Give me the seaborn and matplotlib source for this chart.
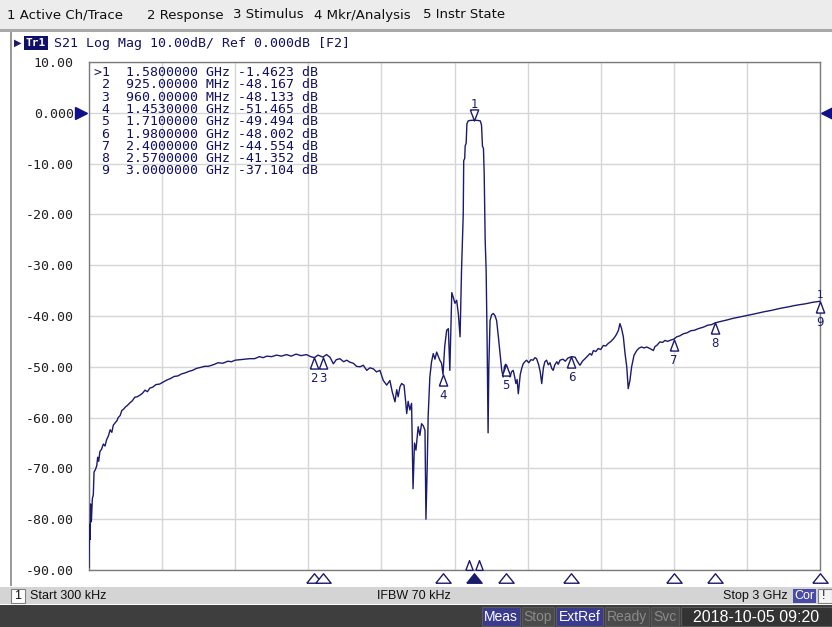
import matplotlib
matplotlib.use("Agg")
import matplotlib.pyplot as plt
import matplotlib.transforms as mtransforms
from matplotlib.patches import Rectangle
import seaborn as sns
import pandas as pd

# Setup style
sns.set_theme(style="white")
plt.rcParams['font.family'] = 'sans-serif'

# S21 trace (GHz, dB)
freq_ghz = [
    0.0003, 0.0012, 0.003, 0.005, 0.007, 0.010, 0.014, 0.018, 0.021, 0.026,
    0.032, 0.036, 0.040, 0.045, 0.052, 0.059, 0.066, 0.073, 0.080, 0.087,
    0.094, 0.100, 0.108, 0.115, 0.120, 0.128, 0.135, 0.141, 0.150, 0.158,
    0.168, 0.178, 0.188, 0.198, 0.209, 0.220, 0.230, 0.240, 0.250, 0.262,
    0.275, 0.290, 0.305, 0.320, 0.335, 0.350, 0.365, 0.380, 0.395, 0.410,
    0.425, 0.442, 0.460, 0.475, 0.490, 0.510, 0.530, 0.550, 0.570, 0.585,
    0.600, 0.620, 0.640, 0.660, 0.680, 0.700, 0.715, 0.730, 0.750, 0.770,
    0.790, 0.811, 0.830, 0.850, 0.870, 0.893, 0.910, 0.925, 0.940, 0.960,
    0.975, 0.989, 1.003, 1.015, 1.030, 1.045, 1.058, 1.071, 1.085, 1.098,
    1.112, 1.126, 1.140, 1.153, 1.167, 1.180, 1.194, 1.208, 1.222, 1.235,
    1.245, 1.256, 1.263, 1.269, 1.276, 1.283, 1.293, 1.300, 1.304, 1.310,
    1.317, 1.324, 1.330, 1.336, 1.342, 1.351, 1.358, 1.365, 1.372, 1.379,
    1.383, 1.388, 1.392, 1.399, 1.406, 1.413, 1.420, 1.427, 1.434, 1.440,
    1.447, 1.453, 1.460, 1.468, 1.475, 1.481, 1.489, 1.495, 1.502, 1.509,
    1.516, 1.523, 1.529, 1.536, 1.538, 1.542, 1.544, 1.548, 1.551, 1.556,
    1.565, 1.580, 1.595, 1.606, 1.611, 1.615, 1.619, 1.622, 1.626, 1.630,
    1.634, 1.638, 1.641, 1.646, 1.652, 1.659, 1.666, 1.673, 1.680, 1.687,
    1.694, 1.700, 1.705, 1.710, 1.714, 1.721, 1.728, 1.734, 1.741, 1.747,
    1.752, 1.757, 1.762, 1.770, 1.776, 1.782, 1.789, 1.796, 1.805, 1.814,
    1.823, 1.830, 1.837, 1.845, 1.852, 1.858, 1.865, 1.871, 1.878, 1.885,
    1.892, 1.899, 1.905, 1.912, 1.920, 1.926, 1.933, 1.945, 1.955, 1.965,
    1.980, 1.995, 2.005, 2.015, 2.025, 2.036, 2.046, 2.056, 2.063, 2.070,
    2.080, 2.090, 2.100, 2.111, 2.121, 2.131, 2.142, 2.152, 2.160, 2.166,
    2.173, 2.179, 2.186, 2.193, 2.200, 2.207, 2.213, 2.220, 2.227, 2.237,
    2.248, 2.258, 2.268, 2.278, 2.289, 2.302, 2.316, 2.323, 2.330, 2.343,
    2.354, 2.364, 2.375, 2.384, 2.400, 2.412, 2.425, 2.439, 2.455, 2.470,
    2.485, 2.500, 2.521, 2.540, 2.555, 2.570, 2.590, 2.617, 2.640, 2.670,
    2.699, 2.730, 2.767, 2.800, 2.836, 2.870, 2.900, 2.940, 2.970, 3.000,
]
s21_db = [
    -89.5, -86.0, -81.0, -84.0, -77.0, -80.5, -76.0, -75.2, -70.7, -70.3,
    -69.5, -67.8, -68.6, -66.7, -66.2, -65.2, -65.6, -64.3, -63.6, -62.4,
    -62.9, -61.5, -61.0, -60.6, -60.0, -59.6, -58.6, -58.4, -57.9, -57.6,
    -57.1, -56.7, -56.0, -55.9, -55.6, -55.2, -54.6, -54.9, -54.2, -54.0,
    -53.5, -53.4, -53.0, -52.6, -52.3, -51.9, -51.8, -51.4, -51.2, -50.9,
    -50.7, -50.3, -50.1, -49.9, -49.9, -49.6, -49.2, -49.3, -48.9, -49.0,
    -48.7, -48.6, -48.5, -48.4, -48.4, -48.0, -48.2, -47.9, -48.0, -47.7,
    -47.9, -47.6, -47.9, -47.5, -47.8, -47.6, -48.0, -48.2, -47.7, -48.1,
    -47.6, -48.1, -49.4, -48.6, -48.4, -49.0, -48.7, -49.1, -49.3, -49.9,
    -50.0, -49.7, -50.7, -50.2, -50.4, -51.0, -50.7, -52.7, -53.6, -52.7,
    -55.0, -56.9, -54.5, -55.9, -54.0, -53.3, -53.6, -57.0, -59.2, -56.8,
    -58.5, -57.2, -74.0, -65.0, -66.4, -61.8, -63.5, -61.2, -61.6, -62.5,
    -80.0, -70.0, -59.8, -52.0, -49.0, -47.4, -48.5, -47.1, -48.0, -48.7,
    -49.3, -51.5, -46.0, -42.8, -42.5, -50.7, -35.4, -36.3, -37.5, -36.9,
    -39.6, -44.1, -31.0, -20.0, -9.4, -9.0, -6.5, -6.0, -2.2, -1.6,
    -1.5, -1.46, -1.5, -1.6, -2.4, -6.6, -7.0, -12.0, -25.0, -31.0,
    -45.0, -63.0, -50.0, -40.9, -39.8, -39.5, -39.9, -40.9, -44.0, -47.4,
    -50.7, -52.0, -50.0, -49.5, -50.0, -51.2, -52.0, -51.0, -50.7, -52.0,
    -53.3, -52.5, -55.3, -51.5, -50.3, -49.4, -49.0, -48.7, -49.2, -48.6,
    -48.7, -48.2, -48.4, -49.5, -51.0, -53.3, -50.2, -49.0, -48.7, -49.6,
    -49.2, -50.3, -50.7, -49.6, -49.0, -49.5, -48.7, -48.5, -48.9, -48.3,
    -48.0, -48.1, -49.0, -49.7, -48.9, -48.4, -47.9, -47.4, -47.7, -46.8,
    -47.0, -46.4, -46.6, -45.8, -45.9, -45.4, -45.0, -44.5, -44.0, -43.5,
    -42.8, -41.5, -42.5, -44.1, -47.4, -50.0, -54.3, -52.7, -50.0, -47.7,
    -46.8, -46.3, -46.1, -46.3, -46.1, -46.4, -46.8, -46.0, -45.8, -45.1,
    -45.2, -44.8, -45.0, -44.8, -44.55, -44.1, -43.9, -43.5, -43.3, -42.9,
    -42.8, -42.5, -42.2, -41.8, -41.7, -41.35, -41.1, -40.8, -40.5, -40.2,
    -39.9, -39.6, -39.2, -38.9, -38.5, -38.2, -37.9, -37.6, -37.3, -37.1,
]

# Marker table
marker_ids = [1, 2, 3, 4, 5, 6, 7, 8, 9]
marker_freq = [1.58, 0.925, 0.96, 1.453, 1.71, 1.98, 2.4, 2.57, 3.0]
marker_db = [-1.4623, -48.167, -48.133, -51.465, -49.494, -48.002, -44.554, -41.352, -37.104]
active_marker = 1
bw_marker_freq = [1.559, 1.600]

y_ticks = [10, 0, -10, -20, -30, -40, -50, -60, -70, -80, -90]
menu_items = ["1 Active Ch/Trace", "2 Response", "3 Stimulus", "4 Mkr/Analysis", "5 Instr State"]
menu_x = [7, 147, 233, 314, 423]

W, H = 832, 627
NAVY = '#1b1b6e'
MONO = 'DejaVu Sans Mono'


def fx(x):
    return x / W


def fy(y):
    return 1 - y / H


def box(fig, x0, y0, x1, y1, fc, ec='none', lw=0.8):
    fig.patches.append(Rectangle((fx(x0), fy(y1)), (x1 - x0) / W, (y1 - y0) / H,
                                 transform=fig.transFigure, facecolor=fc,
                                 edgecolor=ec, linewidth=lw, zorder=0))


fig = plt.figure(figsize=(W / 100, H / 100), dpi=100)
fig.patch.set_facecolor('white')

# window chrome: menu bar
box(fig, 0, 0, W, 29, '#ececec')
box(fig, 0, 29, W, 32, '#a8a8a8')
for label, x in zip(menu_items, menu_x):
    fig.text(fx(x), fy(15), label, fontsize=9.5, family='DejaVu Sans', color='#101010', va='center')

# trace title line
fig.text(fx(14), fy(43), '\u25B6', fontsize=7, color=NAVY, va='center', family='DejaVu Sans')
box(fig, 24, 36, 48, 50, '#10106a')
fig.text(fx(36), fy(43), 'Tr1', fontsize=8, color='white', va='center', ha='center', family=MONO, weight='bold')
fig.text(fx(54), fy(43), 'S21 Log Mag 10.00dB/ Ref 0.000dB [F2]', fontsize=9.5, family=MONO, color='#101060', va='center')

# plot area
ax = fig.add_axes([fx(89), fy(570), 731 / W, 508 / H])
df = pd.DataFrame({'freq': freq_ghz, 'db': s21_db})
sns.lineplot(data=df, x='freq', y='db', ax=ax, color=NAVY, lw=1.0,
             estimator=None, sort=False, legend=False, zorder=3)

ax.set_xlim(0.0003, 3.0)
ax.set_ylim(-90, 10)
ax.set_xticks([0.0003 + i * (3.0 - 0.0003) / 10 for i in range(11)])
ax.set_xticklabels([])
ax.set_yticks(y_ticks)
ax.set_yticklabels(['0.000' if v == 0 else f'{v:.2f}' for v in y_ticks],
                   family=MONO, fontsize=9.5, color='#202020')
ax.tick_params(axis='both', length=0)
ax.tick_params(axis='y', pad=11)
ax.set_xlabel('')
ax.set_ylabel('')
ax.grid(True, color='#d6d6d6', lw=1)
for sp in ax.spines.values():
    sp.set_color('#7c7c7c')
    sp.set_linewidth(1)

# reference level arrows
ref_tr = mtransforms.blended_transform_factory(ax.transAxes, ax.transData)
ax.plot([-0.011], [0], marker='>', ms=8, color='#10108a', transform=ref_tr, clip_on=False)
ax.plot([1.009], [0], marker='<', ms=8, color='#10108a', transform=ref_tr, clip_on=False)

# markers on the trace
tri_up = [(-0.75, -1), (0.75, -1), (0, 1), (-0.75, -1)]
tri_dn = [(-0.75, 1), (0.75, 1), (0, -1), (-0.75, 1)]
below = mtransforms.offset_copy(ax.transData, fig=fig, y=-5.5, units='dots')
below_lbl = mtransforms.offset_copy(ax.transData, fig=fig, y=-21, units='dots')
above = mtransforms.offset_copy(ax.transData, fig=fig, y=5.5, units='dots')
above_lbl = mtransforms.offset_copy(ax.transData, fig=fig, y=16, units='dots')
for mid, f, d in zip(marker_ids, marker_freq, marker_db):
    if mid == active_marker:
        ax.plot([f], [d], marker=tri_dn, ms=8, mfc='white', mec=NAVY, mew=1,
                transform=above, clip_on=False, zorder=5)
        ax.text(f, d, str(mid), transform=above_lbl, ha='center', va='center',
                fontsize=8.5, color=NAVY, family='DejaVu Sans', zorder=5)
    else:
        ax.plot([f], [d], marker=tri_up, ms=8, mfc='white', mec=NAVY, mew=1,
                transform=below, clip_on=False, zorder=5)
        ax.text(f, d, str(mid), transform=below_lbl, ha='center', va='center',
                fontsize=8.5, color=NAVY, family='DejaVu Sans', zorder=5)
# small "1" riding on the last marker at the right edge
ax.text(marker_freq[-1], marker_db[-1], '1', transform=mtransforms.offset_copy(ax.transData, fig=fig, y=6, units='dots'),
        ha='center', va='center', fontsize=7.5, color=NAVY, zorder=5, clip_on=False)

# marker strip under the grid
strip_tr = mtransforms.blended_transform_factory(ax.transData, ax.transAxes)
strip = mtransforms.offset_copy(strip_tr, fig=fig, y=-8, units='dots')
tri_flat = [(-1, -0.62), (1, -0.62), (0, 0.62), (-1, -0.62)]
for mid, f in zip(marker_ids, marker_freq):
    filled = mid == active_marker
    ax.plot([f], [0], marker=tri_flat, ms=11, mfc=NAVY if filled else 'white', mec=NAVY,
            mew=1, transform=strip, clip_on=False, zorder=5)
bw_tr = mtransforms.offset_copy(strip_tr, fig=fig, y=5, units='dots')
for f in bw_marker_freq:
    ax.plot([f], [0], marker=tri_up, ms=7, mfc='white', mec=NAVY, mew=1,
            transform=bw_tr, clip_on=False, zorder=5)

# marker readout table
for i, (mid, f, d) in enumerate(zip(marker_ids, marker_freq, marker_db)):
    if f >= 1:
        fstr = f'{f:.7f} GHz'
    else:
        fstr = f'{f * 1000:.5f} MHz'
    prefix = '>' if mid == active_marker else ' '
    row = f'{prefix}{mid}  {fstr} {d:.5g} dB'
    fig.text(fx(94), fy(72.5 + i * 12.3), row, family=MONO, fontsize=9.5,
             color='#101060', va='center')

# window edge on the left
box(fig, 10, 32, 11.5, 586, '#9a9a9a')

# status bar
box(fig, 0, 587, W, 604, '#d4d4d4')
box(fig, 11, 589, 25, 603, 'white', ec='#808080')
fig.text(fx(18), fy(596), '1', fontsize=9, color='#101010', ha='center', va='center', family='Liberation Sans')
fig.text(fx(30), fy(596), 'Start 300 kHz', fontsize=9, color='#101010', va='center', family='Liberation Sans')
fig.text(fx(377), fy(596), 'IFBW 70 kHz', fontsize=9, color='#101010', va='center', family='Liberation Sans')
fig.text(fx(788), fy(596), 'Stop 3 GHz', fontsize=9, color='#101010', va='center', ha='right', family='Liberation Sans')
box(fig, 793, 589, 816, 603, '#4a4aa8')
fig.text(fx(804.5), fy(596), 'Cor', fontsize=9, color='white', va='center', ha='center', family='Liberation Sans')
box(fig, 818, 589, 832, 603, '#f4f4f4', ec='#808080')
fig.text(fx(824), fy(596), '!', fontsize=9, color='#101010', va='center', ha='center', family='Liberation Sans')

# instrument state bar
box(fig, 0, 605, W, H, '#3e3e3e')
state_items = [('Meas', 482, 520, '#3a3a8e', 'white', 10), ('Stop', 522, 554, '#4a4a4a', '#8a8a8a', 10),
               ('ExtRef', 556, 603, '#3a3a8e', 'white', 10), ('Ready', 605, 649, '#4a4a4a', '#8a8a8a', 10),
               ('Svc', 651, 679, '#4a4a4a', '#8a8a8a', 10), ('2018-10-05 09:20', 681, 832, '#333333', 'white', 11.5)]
for label, x0, x1, bg, fg, size in state_items:
    box(fig, x0, 607, x1, 626, bg, ec='#5a5a5a')
    fig.text(fx((x0 + x1) / 2), fy(617), label, fontsize=size, color=fg, va='center', ha='center',
             family='Liberation Sans')

fig.savefig('out.png', dpi=100)
